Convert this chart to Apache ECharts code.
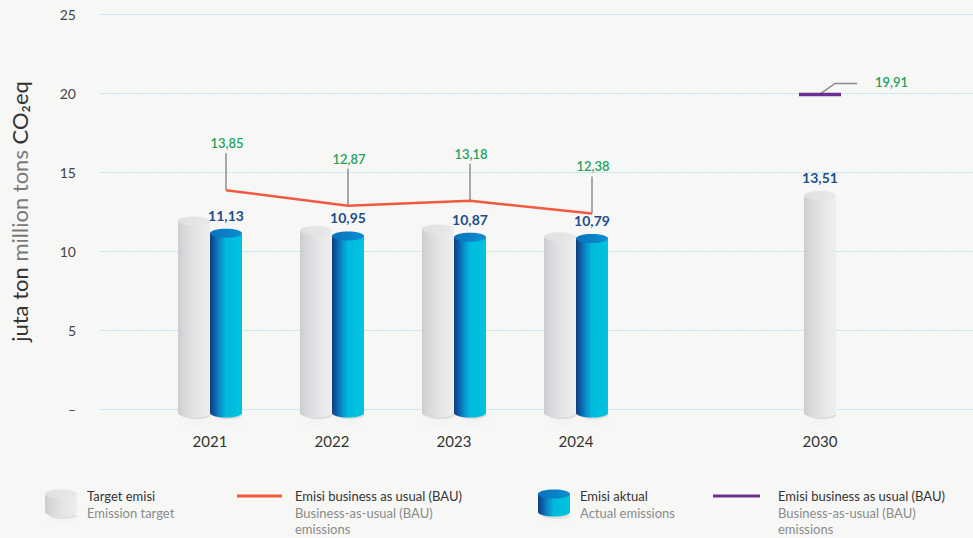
<!DOCTYPE html>
<html>
<head>
<meta charset="utf-8">
<script src="https://cdn.jsdelivr.net/npm/echarts@6/dist/echarts.min.js"></script>
<style>
  html, body { margin: 0; padding: 0; background: #f7f8f6; }
  #chart { width: 973px; height: 538px; }
</style>
</head>
<body>
<div id="chart"></div>
<script>
// ---- data ----
const categories = ['2021', '2022', '2023', '2024', '', '2030'];
const targetEmission = [11.9, 11.3, 11.4, 10.9, null, 13.51];
const actualEmission = [11.13, 10.95, 10.87, 10.79, null, null];
const bauEmission = [13.85, 12.87, 13.18, 12.38, null, null];
const bauProjection = [null, null, null, null, null, 19.91];
const yMin = 0, yMax = 25, yStep = 5;

// ---- style constants ----
const FONT = 'Lato, "Open Sans", sans-serif';
const BAR_W = 32;
const GRID = { left: 149, right: 92, top: 14, bottom: 129 };
const CAT_W = (973 - GRID.left - GRID.right) / categories.length;
const fmt = v => v.toFixed(2).replace('.', ',');

const grayBody = () => new echarts.graphic.LinearGradient(0, 0, 1, 0, [
  { offset: 0, color: '#cdcdd1' }, { offset: 0.2, color: '#d8d8db' },
  { offset: 0.55, color: '#e5e5e7' }, { offset: 1, color: '#eeeeef' }]);
const grayCap = () => new echarts.graphic.LinearGradient(0, 0, 1, 0, [
  { offset: 0, color: '#e0e0e2' }, { offset: 1, color: '#e9e9eb' }]);
const blueBody = () => new echarts.graphic.LinearGradient(0, 0, 1, 0, [
  { offset: 0, color: '#123e78' }, { offset: 0.14, color: '#0b5ea6' },
  { offset: 0.32, color: '#0a8fcd' }, { offset: 0.5, color: '#00bbdc' },
  { offset: 1, color: '#00c3df' }]);
const blueCap = () => new echarts.graphic.LinearGradient(0, 0, 1, 0, [
  { offset: 0, color: '#0a72bb' }, { offset: 1, color: '#0a8fd2' }]);

function cylinder(cx, yTop, yBase, w, body, cap, shadow) {
  const rx = w / 2, ry = 4.5, yb = yBase + 4;
  const els = [];
  if (shadow) {
    els.push({ type: 'ellipse', shape: { cx: cx + 2, cy: yb + 2, rx: rx * 0.9, ry: 4 },
      style: { fill: 'rgba(0,0,0,0.10)', shadowBlur: 10, shadowColor: 'rgba(0,0,0,0.25)', shadowOffsetY: 4 } });
  }
  els.push({ type: 'rect', shape: { x: cx - rx, y: yTop, width: w, height: yb - yTop }, style: { fill: body } });
  els.push({ type: 'ellipse', shape: { cx: cx, cy: yb, rx: rx, ry: ry }, style: { fill: body } });
  els.push({ type: 'ellipse', shape: { cx: cx, cy: yTop, rx: rx, ry: ry }, style: { fill: cap } });
  return els;
}

function cylinderSeries(name, values, kind) {
  const data = [];
  values.forEach((v, i) => {
    if (v == null) return;
    const paired = kind === 'target' ? (actualEmission[i] != null ? 1 : 0) : 1;
    data.push([i, v, paired]);
  });
  return {
    name: name, type: 'custom', xAxisIndex: 0, yAxisIndex: 1, clip: false, z: 3,
    data: data,
    renderItem: function (params, api) {
      const i = api.value(0), v = api.value(1), paired = api.value(2);
      const top = api.coord([i, v]);
      const base = api.coord([i, 0]);
      let cx = top[0];
      if (kind === 'target') cx += paired ? -BAR_W / 2 : 0;
      else cx += BAR_W / 2;
      const children = kind === 'target'
        ? cylinder(cx, top[1], base[1], BAR_W, grayBody(), grayCap(), true)
        : cylinder(cx, top[1], base[1], BAR_W, blueBody(), blueCap(), true);
      const showLabel = kind === 'actual' || !paired;
      if (showLabel) {
        children.push({ type: 'text', style: { text: fmt(v), x: cx, y: top[1] - 11,
          align: 'center', verticalAlign: 'bottom', fill: '#1f4c8a', font: 'bold 14px ' + FONT } });
      }
      return { type: 'group', children: children };
    }
  };
}

const offsetX = (BAR_W / 2) / CAT_W;
const bauPoints = [];
bauEmission.forEach((v, i) => { if (v != null) bauPoints.push([i + offsetX, v]); });
const projPoints = [];
bauProjection.forEach((v, i) => { if (v != null) projPoints.push([i, v]); });

const chart = echarts.init(document.getElementById('chart'), null, { renderer: 'svg' });

const legendText = (x, lines) => lines.map((t, k) => ({
  type: 'text', x: x, y: 496 + k * 16.5,
  style: { text: t, fill: k === 0 ? '#333333' : '#8a8a8a', font: '13px ' + FONT, verticalAlign: 'middle' }
}));
function legendCyl(x, body, cap) {
  const w = 32, rx = 16;
  return [
    { type: 'ellipse', shape: { cx: x + rx + 2, cy: 516, rx: 14, ry: 3 },
      style: { fill: 'rgba(0,0,0,0.08)', shadowBlur: 8, shadowColor: 'rgba(0,0,0,0.25)', shadowOffsetY: 3 } },
    { type: 'rect', shape: { x: x, y: 494, width: w, height: 18 }, style: { fill: body } },
    { type: 'ellipse', shape: { cx: x + rx, cy: 512, rx: rx, ry: 4.5 }, style: { fill: body } },
    { type: 'ellipse', shape: { cx: x + rx, cy: 494, rx: rx, ry: 4.5 }, style: { fill: cap } }
  ];
}

chart.setOption({
  animation: false,
  backgroundColor: '#f7f8f6',
  textStyle: { fontFamily: FONT },
  grid: [
    { left: 97, right: 0, top: GRID.top, bottom: GRID.bottom },
    { left: GRID.left, right: GRID.right, top: GRID.top, bottom: GRID.bottom }
  ],
  xAxis: [
    { type: 'category', gridIndex: 1, data: categories,
      axisLine: { show: false }, axisTick: { show: false },
      axisLabel: { color: '#333333', fontSize: 15, fontWeight: 'normal', margin: 24 } },
    { type: 'value', gridIndex: 1, min: -0.5, max: categories.length - 0.5, show: false },
    { type: 'value', gridIndex: 0, min: 0, max: 1, show: false }
  ],
  yAxis: [
    { type: 'value', gridIndex: 0, min: yMin, max: yMax, interval: yStep,
      axisLine: { show: false }, axisTick: { show: false },
      axisLabel: { color: '#444444', fontSize: 14, margin: 24,
        formatter: v => (v === 0 ? '–' : String(v)) },
      splitLine: { lineStyle: { color: '#a6d6f0', type: 'dotted', width: 1.2 } },
      name: '{a|juta ton }{b|million tons }{a|CO₂eq}',
      nameLocation: 'middle', nameRotate: 90, nameGap: 70,
      nameTextStyle: { rich: {
        a: { fontSize: 22, color: '#333333', fontFamily: FONT },
        b: { fontSize: 22, color: '#7a7a7a', fontFamily: FONT } } } },
    { type: 'value', gridIndex: 1, min: yMin, max: yMax, interval: yStep, show: false,
      splitLine: { show: false } }
  ],
  series: [
    cylinderSeries('Target emisi', targetEmission, 'target'),
    cylinderSeries('Emisi aktual', actualEmission, 'actual'),
    {
      name: 'BAU labels', type: 'custom', xAxisIndex: 1, yAxisIndex: 1, clip: false, z: 4,
      data: bauPoints,
      renderItem: function (params, api) {
        const p = api.coord([api.value(0), api.value(1)]);
        return { type: 'group', children: [
          { type: 'line', shape: { x1: p[0], y1: p[1], x2: p[0], y2: p[1] - 37 },
            style: { stroke: '#8c8c8c', lineWidth: 1.5 } },
          { type: 'text', style: { text: fmt(api.value(1)), x: p[0] + 1, y: p[1] - 47,
            align: 'center', verticalAlign: 'middle', fill: '#22a15b', font: '600 13px ' + FONT } }
        ] };
      }
    },
    {
      name: 'Emisi business as usual (BAU)', type: 'line', xAxisIndex: 1, yAxisIndex: 1, z: 5,
      data: bauPoints, symbol: 'none',
      lineStyle: { color: '#f15a3f', width: 2.5 }
    },
    {
      name: 'BAU 2030', type: 'custom', xAxisIndex: 0, yAxisIndex: 1, clip: false, z: 5,
      data: projPoints,
      renderItem: function (params, api) {
        const p = api.coord([api.value(0), api.value(1)]);
        return { type: 'group', children: [
          { type: 'polyline', shape: { points: [[p[0] + 1, p[1] - 1], [p[0] + 15, p[1] - 11], [p[0] + 37, p[1] - 11]] },
            style: { stroke: '#8c8c8c', lineWidth: 1.5, fill: null } },
          { type: 'line', shape: { x1: p[0] - 21, y1: p[1], x2: p[0] + 21, y2: p[1] },
            style: { stroke: '#6c2f91', lineWidth: 3.5 } },
          { type: 'text', style: { text: fmt(api.value(1)), x: p[0] + 55, y: p[1] - 12,
            align: 'left', verticalAlign: 'middle', fill: '#22a15b', font: '600 13px ' + FONT } }
        ] };
      }
    }
  ],
  graphic: [
    { type: 'group', children: [].concat(
      legendCyl(45, grayBody(), grayCap()),
      legendText(87, ['Target emisi', 'Emission target']),
      [{ type: 'line', shape: { x1: 237, y1: 496, x2: 282, y2: 496 }, style: { stroke: '#f15a3f', lineWidth: 3 } }],
      legendText(295, ['Emisi business as usual (BAU)', 'Business-as-usual (BAU)', 'emissions']),
      legendCyl(538, blueBody(), blueCap()),
      legendText(580, ['Emisi aktual', 'Actual emissions']),
      [{ type: 'line', shape: { x1: 713, y1: 496, x2: 760, y2: 496 }, style: { stroke: '#6c2f91', lineWidth: 3 } }],
      legendText(778, ['Emisi business as usual (BAU)', 'Business-as-usual (BAU)', 'emissions'])
    ) }
  ]
});
</script>
</body>
</html>
